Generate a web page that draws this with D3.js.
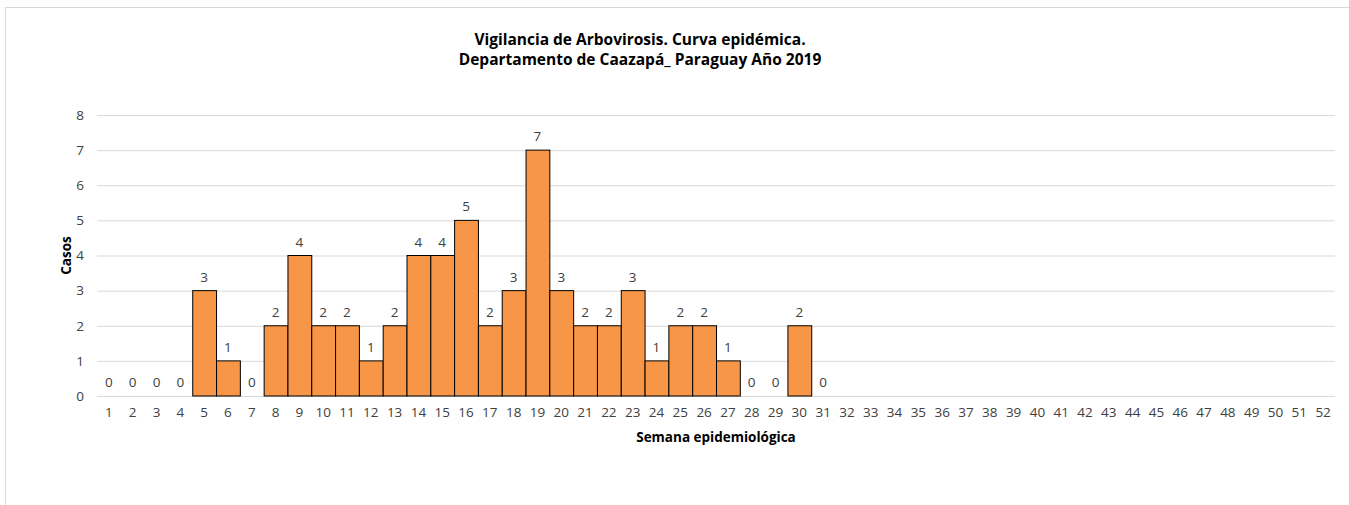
<!DOCTYPE html>
<html>
<head>
<meta charset="utf-8">
<script src="https://cdn.jsdelivr.net/npm/d3@7"></script>
<style>
  body { margin: 0; background: #fff; }
  svg { display: block; font-family: "Open Sans", "Noto Sans", sans-serif; }
  .grid line { stroke: #d9d9d9; }
  .grid path { display: none; }
  .tick text { fill: #404040; font-size: 13.5px; font-family: "Open Sans", "Noto Sans", sans-serif; }
  .value { fill: #404040; font-size: 13.5px; }
  .title { font-weight: bold; font-size: 15.5px; fill: #000; }
  .label { font-weight: bold; font-size: 13.5px; fill: #000; }
</style>
</head>
<body>
<svg width="1349" height="505"></svg>
<script>
const weeks = d3.range(1, 53).map(String)
// casos por semana (semanas 32-52 sin datos)
const casos = [0, 0, 0, 0, 3, 1, 0, 2, 4, 2, 2, 1, 2, 4, 4, 5, 2, 3, 7, 3,
  2, 2, 3, 1, 2, 2, 1, 0, 0, 2, 0]
const yTicks = [0, 1, 2, 3, 4, 5, 6, 7, 8]

const data = casos.map((v, i) => ({ semana: weeks[i], value: v }))

const svg = d3.select('svg')

// marco del grafico
svg.append('rect')
  .attr('x', 5.5)
  .attr('y', 7.5)
  .attr('width', 1400)
  .attr('height', 600)
  .attr('fill', 'none')
  .attr('stroke', '#d9d9d9')

const plotLeft = 97
const plotRight = 1335
const plotTop = 115
const plotBottom = 396

const xScale = d3.scaleBand()
  .range([plotLeft, plotRight])
  .domain(weeks)
  .padding(0)

const yScale = d3.scaleLinear()
  .range([plotBottom, plotTop])
  .domain([0, 8])

svg.append('g')
  .attr('class', 'grid')
  .attr('transform', `translate(${plotLeft}, 0)`)
  .call(d3.axisLeft(yScale)
    .tickValues(yTicks)
    .tickSize(-(plotRight - plotLeft))
    .tickFormat(''))

svg.append('g')
  .attr('transform', `translate(${plotLeft - 13}, 0)`)
  .call(d3.axisLeft(yScale).tickValues(yTicks).tickSize(0).tickPadding(0))
  .call(g => g.select('.domain').remove())

svg.append('g')
  .attr('transform', `translate(0, ${plotBottom + 11})`)
  .call(d3.axisBottom(xScale).tickSize(0).tickPadding(0))
  .call(g => g.select('.domain').remove())
  .selectAll('text')
  .attr('dy', '0.71em')

svg.selectAll('.bar')
  .data(data.filter(d => d.value > 0))
  .enter()
  .append('rect')
  .attr('class', 'bar')
  .attr('x', d => xScale(d.semana) + 0.5)
  .attr('y', d => yScale(d.value))
  .attr('width', xScale.bandwidth())
  .attr('height', d => plotBottom - yScale(d.value))
  .attr('fill', '#f79646')
  .attr('stroke', '#000')
  .attr('stroke-width', 1)

svg.selectAll('.value')
  .data(data)
  .enter()
  .append('text')
  .attr('class', 'value')
  .attr('x', d => xScale(d.semana) + xScale.bandwidth() / 2)
  .attr('y', d => yScale(d.value) - 9)
  .attr('text-anchor', 'middle')
  .text(d => d.value)

svg.append('text')
  .attr('class', 'title')
  .attr('x', 640)
  .attr('y', 45)
  .attr('text-anchor', 'middle')
  .text('Vigilancia de Arbovirosis. Curva epidémica.')

svg.append('text')
  .attr('class', 'title')
  .attr('x', 640)
  .attr('y', 65)
  .attr('text-anchor', 'middle')
  .text('Departamento de Caazapá_ Paraguay Año 2019')

svg.append('text')
  .attr('class', 'label')
  .attr('x', (plotLeft + plotRight) / 2)
  .attr('y', 442)
  .attr('text-anchor', 'middle')
  .text('Semana epidemiológica')

svg.append('text')
  .attr('class', 'label')
  .attr('transform', `translate(71, ${(plotTop + plotBottom) / 2}) rotate(-90)`)
  .attr('text-anchor', 'middle')
  .text('Casos')
</script>
</body>
</html>
